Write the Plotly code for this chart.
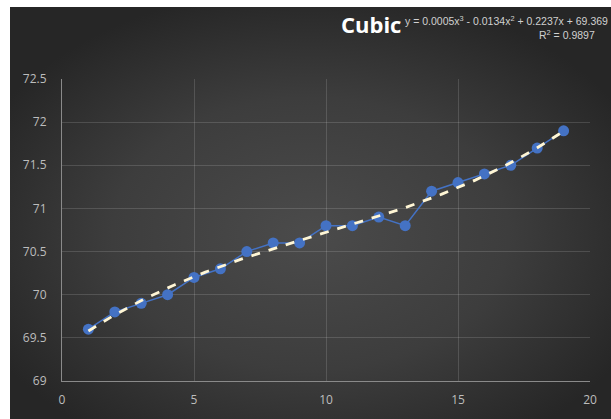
import base64
import numpy as np
import plotly.graph_objects as go

x_vals = list(range(1, 20))
y_vals = [69.6, 69.8, 69.9, 70.0, 70.2, 70.3, 70.5, 70.6, 70.6, 70.8,
          70.8, 70.9, 70.8, 71.2, 71.3, 71.4, 71.5, 71.7, 71.9]
x_ticks = [0, 5, 10, 15, 20]
y_ticks = [69, 69.5, 70, 70.5, 71, 71.5, 72, 72.5]
title_text = "Cubic"
equation_text = "y = 0.0005x<sup>3</sup> - 0.0134x<sup>2</sup> + 0.2237x + 69.369"
r2_text = "R<sup>2</sup> = 0.9897"

coef = np.polyfit(x_vals, y_vals, 3)
x_fit = np.linspace(min(x_vals), max(x_vals), 200)
y_fit = np.polyval(coef, x_fit)

W, H = 611, 419
L, R, T, B = 62, 21, 79, 38
PW, PH = W - L - R, H - T - B


def px(xp):
    return (xp - L) / PW


def py(yp):
    return 1 + (T - yp) / PH


svg = '''<svg xmlns="http://www.w3.org/2000/svg" width="601" height="412" viewBox="0 0 601 412" preserveAspectRatio="none">
<defs><radialGradient id="g" cx="0.5" cy="0.55" r="0.6" gradientUnits="objectBoundingBox">
<stop offset="0" stop-color="#4b4b4b"/>
<stop offset="0.55" stop-color="#3d3d3d"/>
<stop offset="1" stop-color="#262626"/>
</radialGradient></defs>
<rect x="0" y="0" width="601" height="412" fill="url(#g)"/>
</svg>'''
src = "data:image/svg+xml;base64," + base64.b64encode(svg.encode()).decode()

fig = go.Figure()
fig.add_trace(go.Scatter(
    x=x_vals, y=y_vals, mode="lines+markers",
    line=dict(color="#4472c4", width=1.5),
    marker=dict(size=11, color="#4472c4", line=dict(width=0)),
    hoverinfo="skip", showlegend=False))
fig.add_trace(go.Scatter(
    x=x_fit, y=y_fit, mode="lines",
    line=dict(color="#fff6d5", width=2.8, dash="dash"),
    hoverinfo="skip", showlegend=False))

axis_font = dict(family="Open Sans, Noto Sans, sans-serif", size=12, color="#bdbdbd")
eq_font = dict(family="Liberation Sans, Arial, sans-serif", size=10.5, color="#d0d0d0")
fig.update_layout(
    width=W, height=H,
    margin=dict(l=L, r=R, t=T, b=B),
    paper_bgcolor="white",
    plot_bgcolor="rgba(0,0,0,0)",
    images=[dict(source=src, xref="paper", yref="paper",
                 x=px(10), y=py(7),
                 sizex=601 / PW, sizey=412 / PH,
                 xanchor="left", yanchor="top", sizing="stretch", layer="below")],
    xaxis=dict(range=[0, 20], tickvals=x_ticks, showgrid=True,
               gridcolor="rgba(255,255,255,0.14)", gridwidth=1,
               zeroline=False, showline=True, linecolor="#8a8a8a", linewidth=1,
               ticks="", tickfont=axis_font, ticklabelstandoff=8, fixedrange=True),
    yaxis=dict(range=[69, 72.5], tickvals=y_ticks, showgrid=True,
               gridcolor="rgba(255,255,255,0.14)", gridwidth=1,
               zeroline=False, showline=True, linecolor="#8a8a8a", linewidth=1,
               ticks="", tickfont=axis_font, ticklabelstandoff=12, fixedrange=True),
    annotations=[
        dict(text="<b>" + title_text + "</b>", xref="paper", yref="paper",
             x=px(403), y=py(24),
             xanchor="right", yanchor="middle", showarrow=False,
             font=dict(family="Open Sans, sans-serif", size=22, color="white")),
        dict(text=equation_text, xref="paper", yref="paper",
             x=px(610), y=py(20),
             xanchor="right", yanchor="middle", showarrow=False,
             font=eq_font),
        dict(text=r2_text, xref="paper", yref="paper",
             x=px(597), y=py(35),
             xanchor="right", yanchor="middle", showarrow=False,
             font=eq_font),
    ],
)

fig.write_html("out.html", config={"displayModeBar": False},
               post_script="document.body.style.margin='0';")
